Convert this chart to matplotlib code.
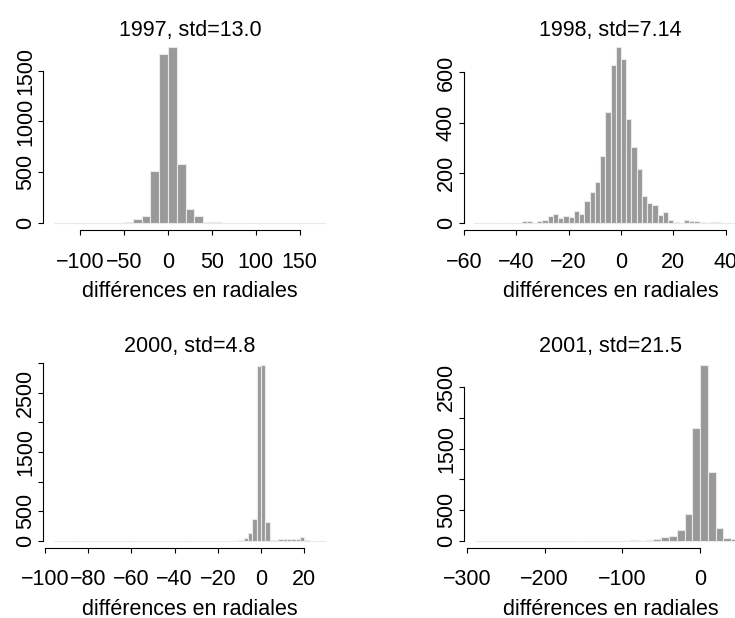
import numpy as np
import matplotlib
matplotlib.use("Agg")
import matplotlib.pyplot as plt
from matplotlib import transforms

plt.rcParams["font.family"] = ["Liberation Sans", "DejaVu Sans"]
plt.rcParams["font.size"] = 15.5

# ---- histogram data: breaks (bin edges) and counts per year ----
years = ["1997", "1998", "2000", "2001"]
stds = ["13.0", "7.14", "4.8", "21.5"]

breaks_1997 = np.arange(-130, 181, 10)
counts_1997 = [1, 0, 0, 0, 0, 0, 0, 0,
               10, 36, 66, 512, 1667, 1730, 578, 141, 72, 10, 10,
               0, 0, 3, 0,
               0, 0, 0, 0, 0, 0, 0,
               1]

breaks_1998 = np.arange(-56, 49, 2)
counts_1998 = [1, 0, 0, 0, 0, 0, 0, 0,
               1, 7, 7, 0, 7, 13, 27, 37, 19, 28,
               23, 47, 35, 87, 124, 162, 268, 444, 628, 700,
               653, 414, 304, 217, 107, 78, 70, 33, 45, 13,
               4, 1, 13, 9, 8, 4, 1, 3, 3, 0,
               0, 0, 0, 1]

breaks_2000 = np.arange(-96, 31, 2)
counts_2000 = [1,
               0, 0, 0, 0, 0, 0, 0, 0, 0, 0, 0, 0, 0, 0,
               0, 0, 0, 0, 0, 0, 0, 0, 0, 0, 0, 0, 0, 0,
               0, 0, 0, 0, 0, 0, 0, 0, 0, 0, 0, 0, 0, 0,
               12, 51, 125, 367, 2955, 2972, 311, 11, 17, 23,
               22, 34, 35, 34, 63, 5, 2, 0, 0, 1]

breaks_2001 = np.arange(-290, 61, 10)
counts_2001 = [1,
               0, 0, 0, 0, 0, 0, 0, 0, 0,
               0, 0, 0, 0, 0, 0, 0, 0, 0,
               2, 4, 2, 11, 22, 55, 82, 179, 435, 1843,
               2865, 1115, 207, 49, 27, 3]

# axis ticks and the labels that get printed (R drops overlapping ones)
xticks_1997 = [-100, -50, 0, 50, 100, 150]
xticks_1998 = [-60, -40, -20, 0, 20, 40]
xticks_2000 = [-100, -80, -60, -40, -20, 0, 20]
xticks_2001 = [-300, -200, -100, 0]

yticks_1997 = [0, 500, 1000, 1500]
ylabels_1997 = ["0", "500", "1000", "1500"]
yticks_1998 = [0, 200, 400, 600]
ylabels_1998 = ["0", "200", "400", "600"]
yticks_2000 = [0, 500, 1000, 1500, 2000, 2500, 3000]
ylabels_2000 = ["0", "500", "", "1500", "", "2500", ""]
yticks_2001 = [0, 500, 1000, 1500, 2000, 2500]
ylabels_2001 = ["0", "500", "", "1500", "", "2500"]

xlabel = "différences en radiales"

panels = [
    (breaks_1997, counts_1997, xticks_1997, yticks_1997, ylabels_1997),
    (breaks_1998, counts_1998, xticks_1998, yticks_1998, ylabels_1998),
    (breaks_2000, counts_2000, xticks_2000, yticks_2000, ylabels_2000),
    (breaks_2001, counts_2001, xticks_2001, yticks_2001, ylabels_2001),
]

# ---- layout in pixels ----
W, H, DPI = 735, 618, 100
PW, PH = 294, 189.7
origins = [(43.0, 40.3), (463.5, 40.3), (42.7, 358.0), (463.7, 358.0)]
title_base = [36.3, 36.3, 352.0, 352.0]
xlab_base = [297.0, 297.0, 615.0, 615.0]

BAR = "#999999"
EDGE = "#e9e9e9"

fig = plt.figure(figsize=(W / DPI, H / DPI), dpi=DPI)
fig.patch.set_facecolor("white")

px = 1.0 / DPI  # inches per pixel

for i, (breaks, counts, xt, yt, ylab) in enumerate(panels):
    left, top = origins[i]
    ax = fig.add_axes([left / W, 1 - (top + PH) / H, PW / W, PH / H])
    ax.set_facecolor("none")

    edges = np.asarray(breaks, dtype=float)
    widths = np.diff(edges)
    ax.bar(edges[:-1], counts, width=widths, align="edge",
           color=BAR, edgecolor=EDGE, linewidth=0.8)

    span = edges[-1] - edges[0]
    ax.set_xlim(edges[0] - 0.04 * span, edges[-1] + 0.04 * span)
    ymax = max(counts)
    ax.set_ylim(-0.04 * ymax, 1.04 * ymax)

    for s in ("top", "right"):
        ax.spines[s].set_visible(False)
    for s in ("left", "bottom"):
        ax.spines[s].set_linewidth(0.8)
        ax.spines[s].set_color("black")
    ax.spines["bottom"].set_bounds(xt[0], xt[-1])
    ax.spines["left"].set_bounds(yt[0], yt[-1])

    ax.tick_params(direction="out", length=3.3, width=0.8, colors="black")
    ax.set_xticks(xt, [str(v).replace("-", "\u2212") for v in xt])
    ax.tick_params(axis="x", pad=12.2, labelsize=15.5)
    ax.set_yticks(yt, [""] * len(yt))

    # rotated y tick labels, baseline parallel to the axis
    off = transforms.ScaledTranslation(-11.6 * px, 0, fig.dpi_scale_trans)
    trans = ax.get_yaxis_transform() + off
    for v, lab in zip(yt, ylab):
        if lab:
            ax.text(0, v, lab, transform=trans, rotation=90,
                    rotation_mode="anchor", ha="center", va="baseline",
                    fontsize=15.5)

    cx = (left + PW / 2) / W
    fig.text(cx, 1 - title_base[i] / H, f"{years[i]}, std={stds[i]}",
             ha="center", va="baseline", fontsize=15.5)
    fig.text(cx, 1 - xlab_base[i] / H, xlabel,
             ha="center", va="baseline", fontsize=15.5)

fig.savefig("out.png", dpi=DPI, facecolor="white")
